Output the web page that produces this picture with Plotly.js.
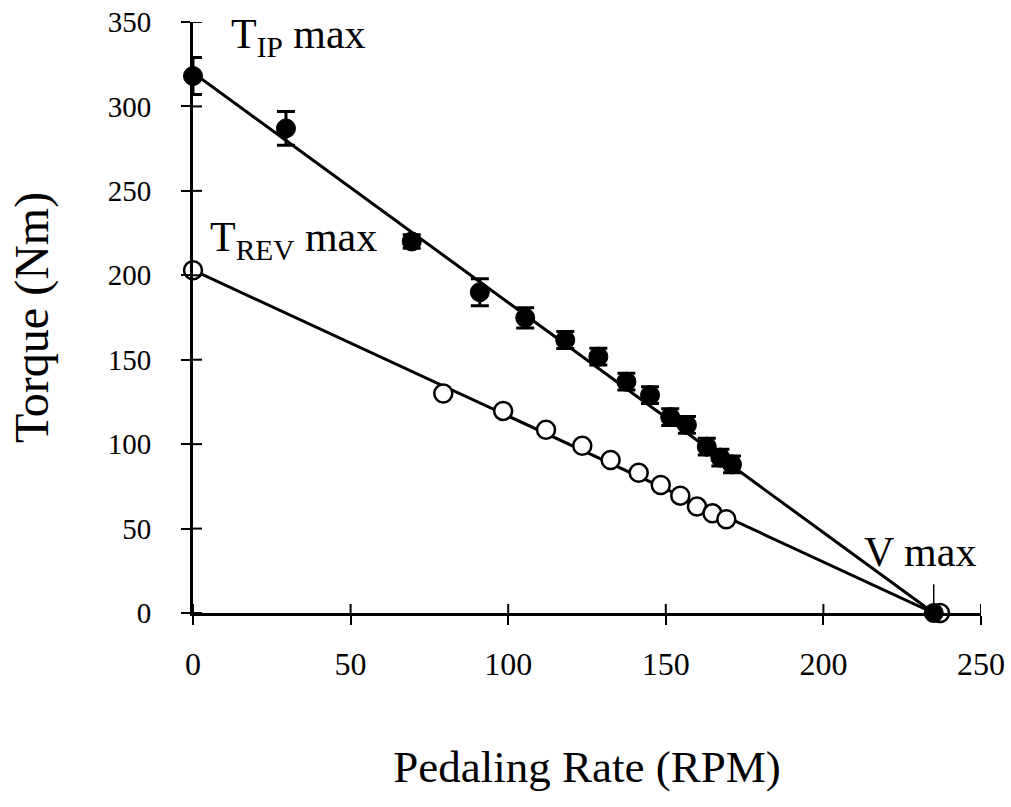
<!DOCTYPE html>
<html>
<head>
<meta charset="utf-8">
<script src="https://cdn.plot.ly/plotly-3.0.1.min.js"></script>
<style>html,body{margin:0;padding:0;background:#fff;}#chart{width:1011px;height:807px;}</style>
</head>
<body>
<div id="chart"></div>
<script>
// Isometric-inertial (filled) torque vs pedaling rate
var ipRate   = [0, 29.5, 69.4, 91, 105.4, 118.1, 128.6, 137.5, 145, 151.4, 156.7, 163, 167.3, 171, 235];
var ipTorque = [318, 287, 220, 190, 174.8, 161.7, 151.8, 137, 129, 116, 111.4, 98.5, 92, 88, 0];
var ipErr    = [11, 10, 4, 8, 6, 5, 5, 5, 5, 5, 5, 5, 5, 5, 0];
// Reverse (open) torque vs pedaling rate
var revRate   = [0, 79.4, 98.4, 112, 123.5, 132.5, 141.4, 148.4, 154.6, 159.9, 164.8, 169.2, 237];
var revTorque = [203, 130, 119.7, 108.5, 99, 90.6, 83, 75.8, 69.5, 63, 59, 55.5, 0];
// Fitted lines
var ipFitX = [0, 235], ipFitY = [320, 0];
var revFitX = [0, 235], revFitY = [203, 0];
// Axis ticks
var xTicks = [0, 50, 100, 150, 200, 250];
var yTicks = [0, 50, 100, 150, 200, 250, 300, 350];

var FONT = 'Liberation Serif, Times New Roman, serif';
var PLOT_W = 1011 - 193 - 30, PLOT_H = 807 - 22 - 194;

var traces = [
  {x: ipFitX, y: ipFitY, mode: 'lines', line: {color: '#000', width: 3}, hoverinfo: 'skip', showlegend: false},
  {x: revFitX, y: revFitY, mode: 'lines', line: {color: '#000', width: 3}, hoverinfo: 'skip', showlegend: false},
  {x: revRate, y: revTorque, mode: 'markers', cliponaxis: false,
   marker: {color: '#fff', size: 18, symbol: 'circle', line: {color: '#000', width: 2.5}},
   showlegend: false},
  {x: ipRate, y: ipTorque, mode: 'markers', cliponaxis: false,
   marker: {color: '#000', size: 19, line: {color: '#000', width: 1}},
   error_y: {type: 'data', array: ipErr, visible: true, color: '#000', thickness: 3, width: 9},
   showlegend: false}
];

var vx = ipRate[ipRate.length - 1];

var shapes = [
  {type: 'line', xref: 'x', yref: 'y', x0: vx, x1: vx, y0: 5, y1: 17, line: {color: '#000', width: 1.5}}
];
// inner half of the crossing tick marks
xTicks.forEach(function (t) {
  shapes.push({type: 'line', xref: 'x', yref: 'paper', x0: t, x1: t, y0: 0, y1: 9 / PLOT_H, line: {color: '#000', width: 2}});
});
yTicks.forEach(function (t) {
  shapes.push({type: 'line', xref: 'paper', yref: 'y', x0: 0, x1: 9 / PLOT_W, y0: t, y1: t, line: {color: '#000', width: 2}});
});

var layout = {
  width: 1011, height: 807,
  margin: {l: 193, r: 30, t: 22, b: 194},
  paper_bgcolor: '#fff', plot_bgcolor: '#fff',
  font: {family: FONT, color: '#000'},
  showlegend: false,
  xaxis: {
    range: [0, 250], tickvals: xTicks, ticktext: xTicks.map(String),
    showgrid: false, zeroline: false, showline: true, linecolor: '#000', linewidth: 3,
    ticks: 'outside', ticklen: 9, tickwidth: 2, tickcolor: '#000',
    tickfont: {family: FONT, size: 32, color: '#000'}, ticklabelstandoff: 12,
    title: {text: 'Pedaling Rate (RPM)', font: {family: FONT, size: 45, color: '#000'}, standoff: 70}
  },
  yaxis: {
    range: [0, 350], tickvals: yTicks, ticktext: yTicks.map(String),
    showgrid: false, zeroline: false, showline: true, linecolor: '#000', linewidth: 3,
    ticks: 'outside', ticklen: 9, tickwidth: 2, tickcolor: '#000',
    tickfont: {family: FONT, size: 29, color: '#000'}, ticklabelstandoff: 24,
    title: {text: 'Torque (Nm)', font: {family: FONT, size: 48, color: '#000'}, standoff: 44}
  },
  annotations: [
    {x: 11.5, y: 341, xref: 'x', yref: 'y', xanchor: 'left', yanchor: 'middle', showarrow: false,
     text: 'T<sub>IP</sub> max', font: {family: FONT, size: 42, color: '#000'}},
    {x: 4.8, y: 221, xref: 'x', yref: 'y', xanchor: 'left', yanchor: 'middle', showarrow: false,
     text: 'T<sub>REV</sub> max', font: {family: FONT, size: 42, color: '#000'}},
    {x: 212.4, y: 36, xref: 'x', yref: 'y', xanchor: 'left', yanchor: 'middle', showarrow: false,
     text: 'V max', font: {family: FONT, size: 42, color: '#000'}}
  ],
  shapes: shapes
};

Plotly.newPlot('chart', traces, layout, {displayModeBar: false, staticPlot: true});
</script>
</body>
</html>
